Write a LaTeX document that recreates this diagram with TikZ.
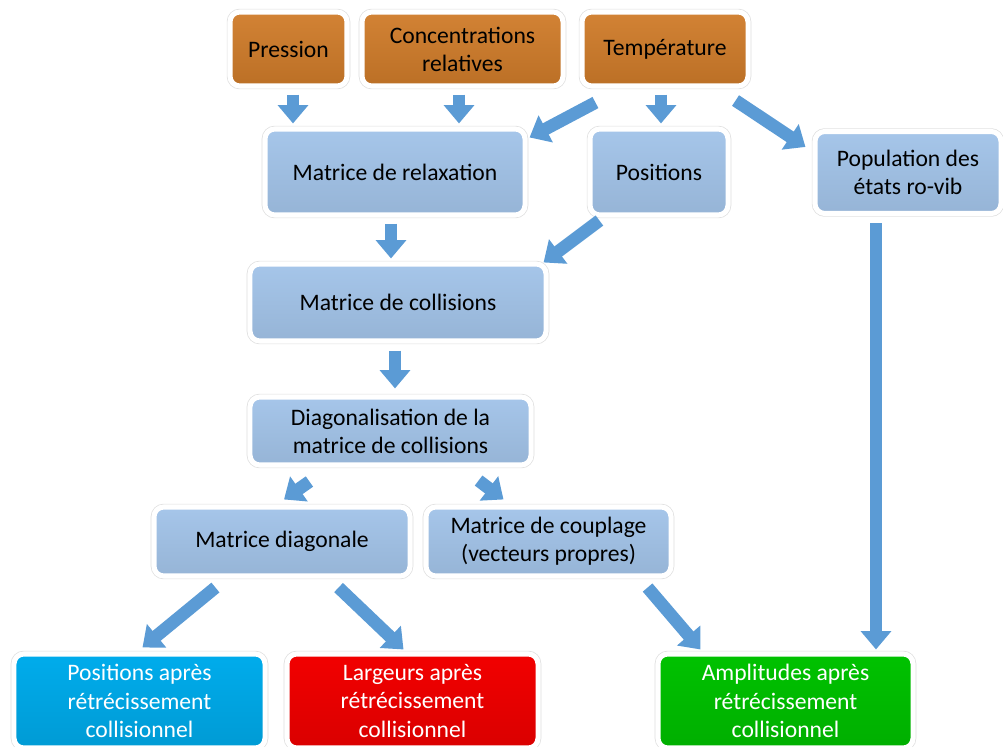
\documentclass[tikz,border=0pt]{standalone}
\usepackage{fontspec}
\setmainfont{Carlito}
\usepackage{xcolor}
\usetikzlibrary{arrows.meta, positioning}

\definecolor{arrowblue}{RGB}{91,155,213}
\definecolor{lightblue}{RGB}{163,196,233}
\definecolor{inputorange}{RGB}{208,124,42}
\definecolor{outcyan}{RGB}{0,172,236}
\definecolor{outred}{RGB}{242,0,0}
\definecolor{outgreen}{RGB}{0,194,0}

\tikzset{
  box/.style={rounded corners=7pt, draw=white, line width=3.6pt,
    preaction={draw=black!13, line width=4.6pt},
    align=center, inner sep=2pt,
    font=\fontsize{16.8}{20}\selectfont},
  inbox/.style={box, top color=inputorange!95!white, bottom color=inputorange!90!black},
  midbox/.style={box, top color=lightblue!97!white, bottom color=lightblue!92!black},
  outbox/.style={box, text=white, top color=#1, bottom color=#1!90!black},
  flow/.style={draw=arrowblue, line width=9pt, -{Triangle[width=21pt,length=13pt]}},
}

\begin{document}
\begin{tikzpicture}[x=0.025cm, y=-0.025cm]
        \useasboundingbox (0,0) rectangle (1003,747);

        % input parameters
        \node[inbox, minimum width=2.925cm, minimum height=1.85cm] (pres) at (288.5,49) {Pression};
        \node[inbox, minimum width=5.025cm, minimum height=1.85cm] (conc) at (462.5,49) {Concentrations\\relatives};
        \node[inbox, minimum width=4.15cm, minimum height=1.85cm] (temp) at (665,49) {Température};

        % intermediate steps
        \node[midbox, minimum width=6.5cm, minimum height=2.15cm] (relax) at (395,172) {Matrice de relaxation};
        \node[midbox, minimum width=3.45cm, minimum height=2.15cm] (posi) at (659,172) {Positions};
        \node[midbox, minimum width=4.65cm, minimum height=2.05cm] (popu) at (908,172.5) {Population des\\états ro-vib};
        \node[midbox, minimum width=7.4cm, minimum height=1.925cm] (coll) at (398,302.5) {Matrice de collisions};
        \node[midbox, minimum width=7.025cm, minimum height=1.7cm] (diag) at (390.5,431) {Diagonalisation de la\\matrice de collisions};
        \node[midbox, minimum width=6.4cm, minimum height=1.725cm] (mdiag) at (282,541.5) {Matrice diagonale};
        \node[midbox, minimum width=6.125cm, minimum height=1.725cm] (coup) at (548.5,541.5) {Matrice de couplage\\(vecteurs propres)};

        % results
        \node[outbox=outcyan, minimum width=6.275cm, minimum height=2.35cm] (rpos) at (139.5,701) {Positions après\\rétrécissement\\collisionnel};
        \node[outbox=outred, minimum width=6.275cm, minimum height=2.35cm] (rlarg) at (412.5,701) {Largeurs après\\rétrécissement\\collisionnel};
        \node[outbox=outgreen, minimum width=6.375cm, minimum height=2.35cm] (ramp) at (785.5,701) {Amplitudes après\\rétrécissement\\collisionnel};

        % arrows
        \draw[flow] ([shift={(4.5,6)}]pres.south) -- ([shift={(4.5,-3)}]pres.south |- relax.north);
        \draw[flow] ([shift={(-3.5,6)}]conc.south) -- ([shift={(-3.5,-3)}]conc.south |- relax.north);
        \draw[flow] ([shift={(16,14)}]temp.south west) -- ([shift={(2,11)}]relax.north east);
        \draw[flow] ([shift={(2,6)}]posi.north |- temp.south) -- ([shift={(2,-3)}]posi.north);
        \draw[flow] ([shift={(-15,12)}]temp.south east) -- ([shift={(-7,18)}]popu.north west);
        \draw[flow] ([shift={(-4,6)}]relax.south) -- ([shift={(-4,-3)}]relax.south |- coll.north);
        \draw[flow] ([shift={(12,3)}]posi.south west) -- ([shift={(-5,1)}]coll.north east);
        \draw[flow] ([shift={(-3,7)}]coll.south) -- ([shift={(-3,-6)}]coll.south |- diag.north);
        \draw[flow] ([shift={(62,14)}]diag.south west) -- ([shift={(2,-5)}]mdiag.north);
        \draw[flow] ([shift={(-55,13)}]diag.south east) -- ([shift={(-45,-5)}]coup.north);
        \draw[flow] ([shift={(64,9)}]mdiag.south west) -- ([shift={(3,-4)}]rpos.north);
        \draw[flow] ([shift={(-74,9)}]mdiag.south east) -- ([shift={(-9,-2)}]rlarg.north);
        \draw[flow] ([shift={(-26,9)}]coup.south east) -- ([shift={(-85,-2)}]ramp.north);
        \draw[flow] ([shift={(-32,7)}]popu.south) -- ([shift={(-32,-2)}]popu.south |- ramp.north);
    \end{tikzpicture}
\end{document}
